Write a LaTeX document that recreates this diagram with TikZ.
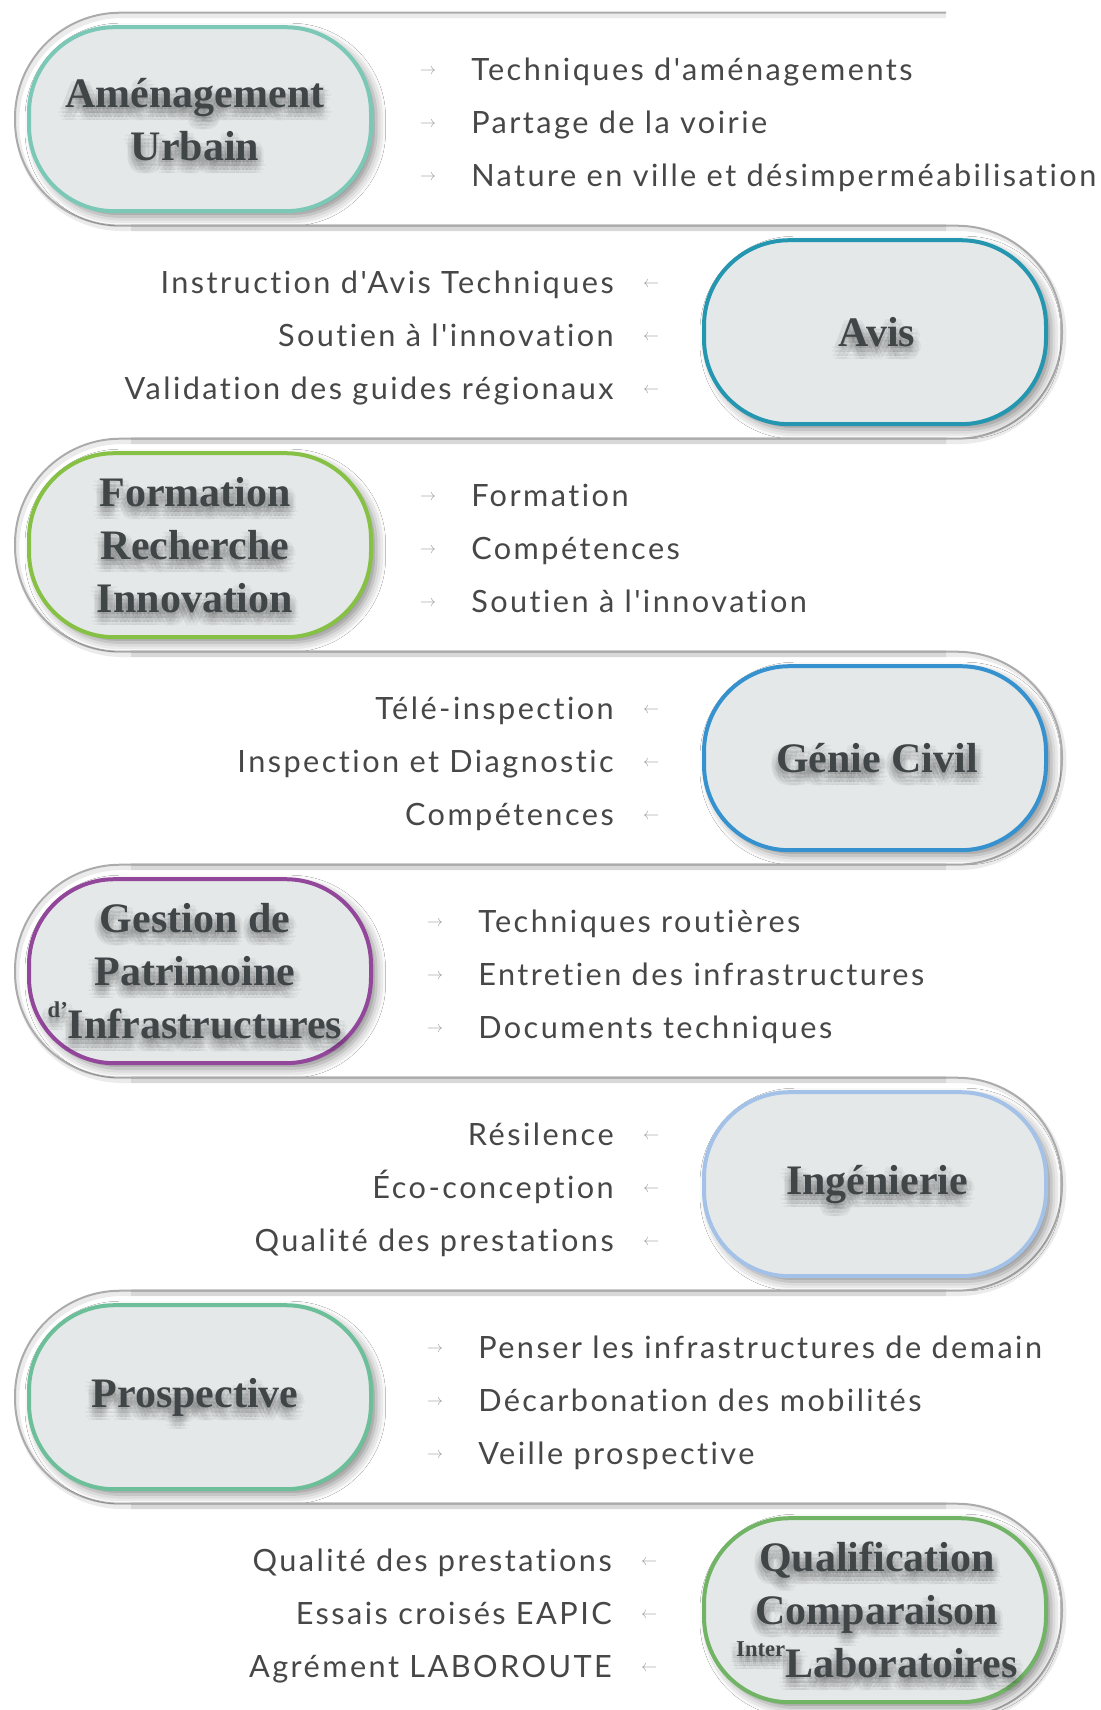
\documentclass[tikz,border=0pt]{standalone}
\usepackage{fontspec}
\newfontfamily\itemfont{Lato}[LetterSpace=8, Ligatures=NoCommon]
\newfontfamily\titlefont{Liberation Serif}
\usetikzlibrary{shadows.blur,calc}
\definecolor{bandgray}{HTML}{ABABAB}
\definecolor{pillfill}{HTML}{E5E8E9}
\definecolor{titlecol}{HTML}{404548}
\definecolor{itemcol}{HTML}{474747}
\definecolor{arrcol}{HTML}{A3A3A3}
\definecolor{cA}{HTML}{7CC8B6}
\definecolor{cB}{HTML}{2596AF}
\definecolor{cC}{HTML}{86C146}
\definecolor{cD}{HTML}{3592CF}
\definecolor{cE}{HTML}{92479A}
\definecolor{cF}{HTML}{A4C2E8}
\definecolor{cG}{HTML}{6CBF98}
\definecolor{cH}{HTML}{72B466}
\tikzset{
  band/.style={draw=bandgray, line width=1.5pt, rounded corners=79pt},
  bandshadow/.style={draw=black, opacity=0.08, line width=3.5pt, rounded corners=79pt},
  pill/.style={draw=#1, line width=3pt, fill=pillfill, rounded corners=64pt,
    minimum width=256.5pt, minimum height=138pt, inner sep=0pt,
    blur shadow={shadow xshift=4pt, shadow yshift=-4pt, shadow blur radius=7pt, shadow opacity=45}},
  titletext/.style={text=titlecol, align=center, font=\titlefont\bfseries\fontsize{31.5}{39.75}\selectfont, inner sep=0pt},
  titleglow/.style={titletext, text=black, text opacity=0.035},
  item/.style={text=itemcol, font=\itemfont\fontsize{23}{27}\selectfont, inner sep=0pt},
  arr/.style={text=arrcol, font=\fontsize{12}{14}\selectfont, inner sep=0pt},
}
\newcommand\glowtitle[3]{% name, position, text
  \foreach \gx/\gy [count=\gi] in {-6/2,-2/2,2/2,6/2,-7/6,-3/6,1/6,5/6,8/6,-6/10,-2/10,2/10,6/10,-4/13,0/13,4/13,0/4,0/8}{
    \node[titleglow] (#1g\gi) at ($(#2)+(\gx,\gy)$) {#3};
  }
  \node[titletext] (#1) at (#2) {#3};
}
\newcommand\leftrow[7]{% index, color, title, i1, i2, i3, xshift
  \pgfmathsetmacro\T{12.7+213*#1}
  \pgfmathsetmacro\B{\T+213}
  \pgfmathsetmacro\C{\T+106.5}
  \pgfmathsetmacro\AX{428+#7}
  \pgfmathsetmacro\TX{471+#7}
  \draw[bandshadow] (946,{\T+3}) -- (17,{\T+3}) -- (17,{\B+3}) -- (946,{\B+3});
  \draw[band] (946,\T) -- (15,\T) -- (15,\B) -- (946,\B);
  \node[pill=#2] (pill#1) at (200,\C) {};
  \coordinate (tc#1) at (195,\C);
  \glowtitle{title#1}{tc#1}{#3}
  \node[arr] (arr#1a) at (\AX,{\T+59}) {$\rightarrow$};
  \node[arr] (arr#1b) at (\AX,{\T+112}) {$\rightarrow$};
  \node[arr] (arr#1c) at (\AX,{\T+165}) {$\rightarrow$};
  \node[item, anchor=base west] (it#1a) at (\TX,{\T+68}) {#4};
  \node[item, anchor=base west] (it#1b) at (\TX,{\T+121}) {#5};
  \node[item, anchor=base west] (it#1c) at (\TX,{\T+174}) {#6};
}
\newcommand\rightrow[7]{% index, color, title, i1, i2, i3, xshift
  \pgfmathsetmacro\T{12.7+213*#1}
  \pgfmathsetmacro\B{\T+213}
  \pgfmathsetmacro\C{\T+106.5}
  \pgfmathsetmacro\AX{651+#7}
  \pgfmathsetmacro\TX{614+#7}
  \draw[bandshadow] (131,{\T+3}) -- (1064,{\T+3}) -- (1064,{\B+3}) -- (131,{\B+3});
  \draw[band] (131,\T) -- (1062,\T) -- (1062,\B) -- (131,\B);
  \node[pill=#2] (pill#1) at (875,\C) {};
  \coordinate (tc#1) at (877,\C);
  \glowtitle{title#1}{tc#1}{#3}
  \node[arr] (arr#1a) at (\AX,{\T+59}) {$\leftarrow$};
  \node[arr] (arr#1b) at (\AX,{\T+112}) {$\leftarrow$};
  \node[arr] (arr#1c) at (\AX,{\T+165}) {$\leftarrow$};
  \node[item, anchor=base east] (it#1a) at (\TX,{\T+68}) {#4};
  \node[item, anchor=base east] (it#1b) at (\TX,{\T+121}) {#5};
  \node[item, anchor=base east] (it#1c) at (\TX,{\T+174}) {#6};
}
\newcommand\supsm[1]{\raisebox{0.5em}{\fontsize{17}{17}\selectfont #1}}
\begin{document}
\begin{tikzpicture}[x=0.75pt,y=-0.75pt]
\useasboundingbox[fill=white] (0,0) rectangle (1100,1710);
\leftrow{0}{cA}{Aménagement\\Urbain}{Techniques d'aménagements}{Partage de la voirie}{Nature en ville et désimperméabilisation}{0}
\rightrow{1}{cB}{Avis}{Instruction d'Avis Techniques}{Soutien à l'innovation}{Validation des guides régionaux}{0}
\leftrow{2}{cC}{Formation\\Recherche\\Innovation}{Formation}{Compétences}{Soutien à l'innovation}{0}
\rightrow{3}{cD}{Génie Civil}{Télé-inspection}{Inspection et Diagnostic}{Compétences}{0}
\leftrow{4}{cE}{Gestion de\\Patrimoine\\\supsm{d’}Infrastructures}{Techniques routières}{Entretien des infrastructures}{Documents techniques}{7}
\rightrow{5}{cF}{Ingénierie}{Résilence}{Éco-conception}{Qualité des prestations}{0}
\leftrow{6}{cG}{Prospective}{Penser les infrastructures de demain}{Décarbonation des mobilités}{Veille prospective}{7}
\rightrow{7}{cH}{Qualification\\Comparaison\\\supsm{Inter}Laboratoires}{Qualité des prestations}{Essais croisés EAPIC}{Agrément LABOROUTE}{-2}
\end{tikzpicture}
\end{document}
